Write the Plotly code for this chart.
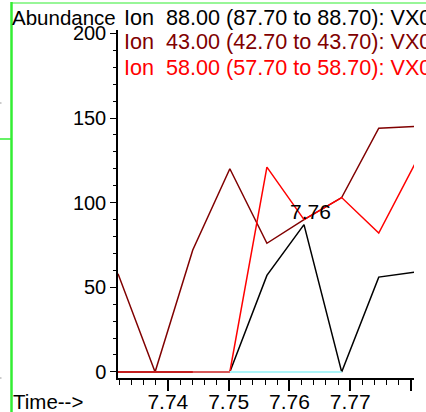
import plotly.graph_objects as go

# ---- data ----
times = [7.7318, 7.7379, 7.7441, 7.7502, 7.7563, 7.7624, 7.7686, 7.7747, 7.7808]
ion88 = [0, 0, 0, 0, 57, 87, 0, 56, 59]
ion43 = [58, 0, 72, 120, 76, 90, 103, 144, 145]
ion58 = [0, 0, 0, 0, 121, 90, 103, 82, 124]

base1_t = [7.7318, 7.7441]
base2_t = [7.7441, 7.7502]
base3_t = [7.7502, 7.7686]
base_v = [0, 0]

legend_lines = [
    "Ion\u00a0\u00a088.00 (87.70 to 88.70): VX0",
    "Ion\u00a0\u00a043.00 (42.70 to 43.70): VX0",
    "Ion\u00a0\u00a058.00 (57.70 to 58.70): VX0",
]
legend_colors = ["#000000", "#800000", "#ff0000"]
peak_label = "7.76"
peak_time = 7.7624
peak_value = 87

W, H = 426, 412
L, R, T, B = 118, 12, 30, 34
PW, PH = W - L - R, H - T - B


def px(x):
    return (x - L) / PW


def py(y):
    return (H - B - y) / PH


FONT = "Liberation Sans, Arial, sans-serif"

fig = go.Figure()
fig.add_trace(go.Scatter(x=times, y=ion88, mode="lines", line=dict(color="#000000", width=1.5)))
fig.add_trace(go.Scatter(x=times, y=ion43, mode="lines", line=dict(color="#800000", width=1.5)))
fig.add_trace(go.Scatter(x=times, y=ion58, mode="lines", line=dict(color="#ff0000", width=1.5)))
fig.add_trace(go.Scatter(x=base1_t, y=base_v, mode="lines", line=dict(color="#c41e1e", width=2)))
fig.add_trace(go.Scatter(x=base2_t, y=base_v, mode="lines", line=dict(color="#d85a5a", width=2)))
fig.add_trace(go.Scatter(x=base3_t, y=base_v, mode="lines", line=dict(color="#aaf4f8", width=2)))

annotations = []
for i, (txt, col) in enumerate(zip(legend_lines, legend_colors)):
    annotations.append(dict(
        text=txt, xref="paper", yref="paper", x=px(122), y=py(17 + 25 * i),
        xanchor="left", yanchor="middle", showarrow=False,
        font=dict(family=FONT, size=21.6, color=col)))
annotations.append(dict(
    text="Abundance", xref="paper", yref="paper", x=px(10), y=py(17),
    xanchor="left", yanchor="middle", showarrow=False,
    font=dict(family=FONT, size=20.5, color="#000000")))
annotations.append(dict(
    text="Time-->", xref="paper", yref="paper", x=px(11), y=py(402),
    xanchor="left", yanchor="middle", showarrow=False,
    font=dict(family=FONT, size=20.5, color="#000000")))
annotations.append(dict(
    text=peak_label, xref="x", yref="y", x=peak_time + 0.0011, y=peak_value + 8,
    xanchor="center", yanchor="middle", showarrow=False,
    font=dict(family=FONT, size=21, color="#000000")))

green = "#33ee33"
shapes = [
    dict(type="line", xref="paper", yref="paper", x0=px(11.5), x1=px(11.5), y0=py(2), y1=py(412),
         line=dict(color=green, width=2.5)),
    dict(type="line", xref="paper", yref="paper", x0=px(11), x1=px(426), y0=py(3), y1=py(3),
         line=dict(color=green, width=1.2)),
    dict(type="line", xref="paper", yref="paper", x0=px(0), x1=px(11), y0=py(139), y1=py(139),
         line=dict(color=green, width=1.5)),
    dict(type="line", xref="paper", yref="paper", x0=px(0), x1=px(1.5), y0=py(103), y1=py(103),
         line=dict(color="#999999", width=1)),
    dict(type="line", xref="paper", yref="paper", x0=px(0), x1=px(1.5), y0=py(378), y1=py(378),
         line=dict(color="#999999", width=1)),
]

fig.update_layout(
    width=W, height=H,
    margin=dict(l=L, r=R, t=T, b=B, pad=0, autoexpand=False),
    paper_bgcolor="white", plot_bgcolor="white",
    showlegend=False,
    annotations=annotations,
    shapes=shapes,
    xaxis=dict(
        range=[7.7318, 7.7805], showgrid=False, zeroline=False, automargin=False,
        showline=True, linecolor="black", linewidth=2,
        ticks="outside", tickcolor="black", ticklen=11, tickwidth=1.5,
        tick0=7.74, dtick=0.01, tickformat=".2f", ticklabelstandoff=-7,
        minor=dict(ticks="outside", ticklen=5, tickwidth=1, tickcolor="black", dtick=0.002, tick0=7.74),
        tickfont=dict(family=FONT, size=21, color="black"),
    ),
    yaxis=dict(
        range=[-3.6, 202], showgrid=False, zeroline=False, automargin=False,
        showline=True, linecolor="black", linewidth=1.5,
        ticks="outside", tickcolor="black", ticklen=6, tickwidth=1.2,
        tick0=0, dtick=50,
        minor=dict(ticks="outside", ticklen=3, tickwidth=1, tickcolor="black", dtick=10),
        tickfont=dict(family=FONT, size=20, color="black"),
    ),
)

fig.write_html("out.html", config={"displayModeBar": False},
               post_script="document.body.style.margin='0';")
